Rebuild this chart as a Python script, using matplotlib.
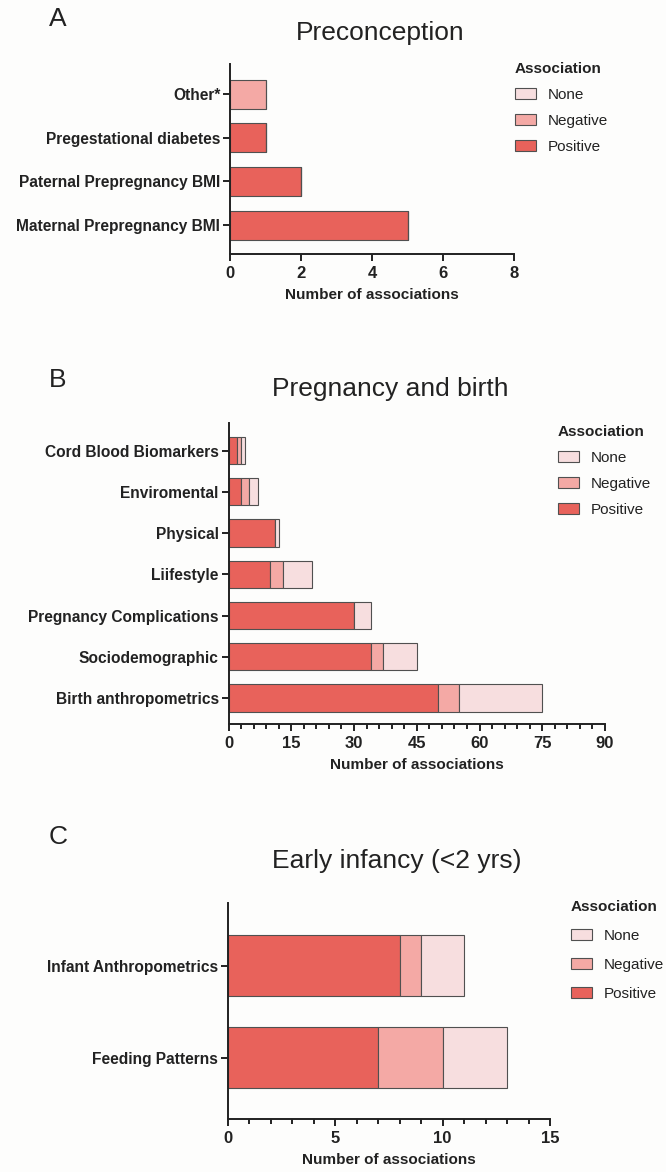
import matplotlib
matplotlib.use("Agg")
import matplotlib.pyplot as plt
from matplotlib.patches import Patch
from matplotlib.ticker import MultipleLocator

plt.rcParams['font.family'] = ['Liberation Sans', 'DejaVu Sans']

# Data (listed bottom to top)
pre_cats = ["Maternal Prepregnancy BMI", "Paternal Prepregnancy BMI",
            "Pregestational diabetes", "Other*"]
pre_pos = [5, 2, 1, 0]
pre_neg = [0, 0, 0, 1]
pre_none = [0, 0, 0, 0]

preg_cats = ["Birth anthropometrics", "Sociodemographic", "Pregnancy Complications",
             "Liifestyle", "Physical", "Enviromental", "Cord Blood Biomarkers"]
preg_pos = [50, 34, 30, 10, 11, 3, 2]
preg_neg = [5, 3, 0, 3, 0, 2, 1]
preg_none = [20, 8, 4, 7, 1, 2, 1]

inf_cats = ["Feeding Patterns", "Infant Anthropometrics"]
inf_pos = [7, 8]
inf_neg = [3, 1]
inf_none = [3, 2]

c_pos = '#E8625B'
c_neg = '#F4A9A5'
c_none = '#F7DEDF'
edge = '#505050'
ink = '#222222'

W, H = 666, 1172
fig = plt.figure(figsize=(W / 100, H / 100), dpi=100)
fig.patch.set_facecolor('#FDFDFC')


def box(l, t, r, b):
    return [l / W, 1 - b / H, (r - l) / W, (b - t) / H]


def panel(rect, cats, pos, neg, none, xmax, major, minor, ylim):
    ax = fig.add_axes(rect)
    ax.set_facecolor('none')
    y = range(len(cats))
    left2 = [p + n for p, n in zip(pos, neg)]
    ax.barh(y, pos, height=0.66, color=c_pos, edgecolor=edge, linewidth=0.8)
    ax.barh(y, neg, left=pos, height=0.66, color=c_neg, edgecolor=edge, linewidth=0.8)
    ax.barh(y, none, left=left2, height=0.66, color=c_none, edgecolor=edge, linewidth=0.8)
    ax.set_yticks(list(y))
    ax.set_yticklabels(cats, fontsize=11.2, fontweight='bold', color=ink)
    ax.set_xlim(0, xmax)
    ax.set_ylim(*ylim)
    ax.xaxis.set_major_locator(MultipleLocator(major))
    if minor:
        ax.xaxis.set_minor_locator(MultipleLocator(minor))
    for lab in ax.get_xticklabels():
        lab.set_fontweight('bold')
    ax.tick_params(axis='x', labelsize=12, colors=ink, width=1.4, length=5)
    ax.tick_params(axis='x', which='minor', width=1.4, length=3.5, colors=ink)
    ax.tick_params(axis='y', width=1.4, length=5, colors=ink, pad=2)
    for s in ['top', 'right']:
        ax.spines[s].set_visible(False)
    for s in ['left', 'bottom']:
        ax.spines[s].set_linewidth(1.4)
        ax.spines[s].set_color(ink)
    ax.set_xlabel("Number of associations", fontsize=11, fontweight='bold',
                  color=ink, labelpad=5)
    return ax


def legend(ax, x, y, spacing):
    handles = [Patch(facecolor=c_none, edgecolor=edge, linewidth=0.8, label='None'),
               Patch(facecolor=c_neg, edgecolor=edge, linewidth=0.8, label='Negative'),
               Patch(facecolor=c_pos, edgecolor=edge, linewidth=0.8, label='Positive')]
    leg = ax.legend(handles=handles, title='Association', loc='upper left',
                    bbox_to_anchor=(x / W, 1 - y / H), bbox_transform=fig.transFigure,
                    frameon=False, fontsize=11, title_fontproperties={'weight': 'bold', 'size': 11},
                    handlelength=1.35, handleheight=0.7, handletextpad=0.8,
                    labelspacing=spacing, borderaxespad=0, borderpad=0, alignment='left')
    for t in leg.get_texts():
        t.set_color(ink)
    leg.get_title().set_color(ink)


axA = panel(box(230, 64, 514, 254), pre_cats, pre_pos, pre_neg, pre_none,
            8, 2, None, (-0.66, 3.69))
legend(axA, 515, 62, 0.78)

axB = panel(box(228.5, 423, 605, 724), preg_cats, preg_pos, preg_neg, preg_none,
            90, 15, 3, (-0.63, 6.67))
legend(axB, 558, 425, 0.78)

axC = panel(box(228, 903, 550, 1119), inf_cats, inf_pos, inf_neg, inf_none,
            15, 5, 1, (-0.66, 1.677))
legend(axC, 571, 900, 0.98)

# Panel titles and letters
fig.text(380 / W, 1 - 33 / H, "Preconception", fontsize=19, ha='center', va='center', color=ink)
fig.text(390 / W, 1 - 389 / H, "Pregnancy and birth", fontsize=19, ha='center', va='center', color=ink)
fig.text(397 / W, 1 - 861 / H, "Early infancy (<2 yrs)", fontsize=19, ha='center', va='center', color=ink)
fig.text(49 / W, 1 - 19 / H, "A", fontsize=19, ha='left', va='center', color=ink)
fig.text(49 / W, 1 - 380 / H, "B", fontsize=19, ha='left', va='center', color=ink)
fig.text(49 / W, 1 - 837 / H, "C", fontsize=19, ha='left', va='center', color=ink)

fig.savefig("out.png", dpi=100, facecolor=fig.get_facecolor())
